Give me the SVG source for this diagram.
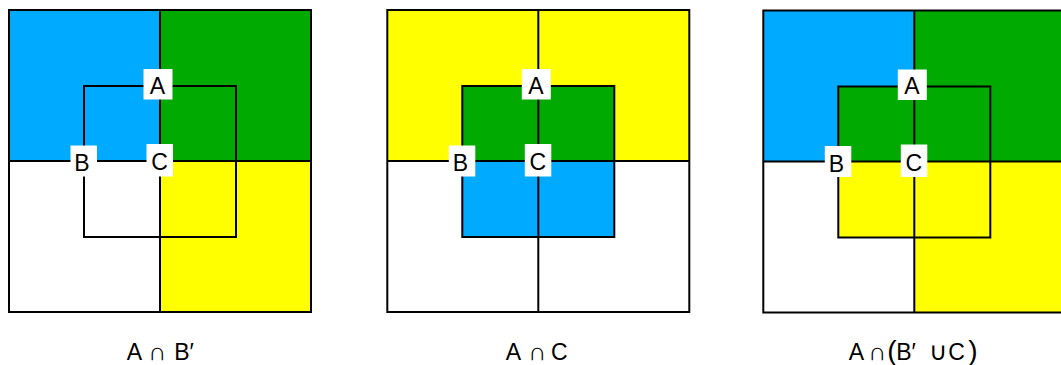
<svg xmlns="http://www.w3.org/2000/svg" xmlns:xlink="http://www.w3.org/1999/xlink" width="1061" height="365" viewBox="0 0 1061 365">
<style>
.blue{fill:#00AAFF}
.green{fill:#00AA00}
.yellow{fill:#FFFF00}
.ln{fill:none;stroke:#000;stroke-width:2}
.lbox{fill:#fff}
.lt{font-family:"Liberation Sans","DejaVu Sans",Arial,sans-serif;font-size:23px;fill:#000;text-anchor:middle}
.cap{font-family:"Liberation Sans","DejaVu Sans",Arial,sans-serif;font-size:23px;fill:#000;text-anchor:middle}
.op{font-family:"DejaVu Sans",sans-serif;font-size:25px;font-weight:200}
.par{font-size:28px}
</style>
<defs>
<g id="grid">
<rect class="ln" x="9" y="10" width="302" height="302"/>
<line class="ln" x1="160" y1="10" x2="160" y2="312"/>
<line class="ln" x1="9" y1="161" x2="311" y2="161"/>
<rect class="ln" x="84" y="86" width="152" height="151"/>
</g>
<g id="labels">
<g id="lblA"><rect class="lbox" x="143.5" y="69" width="29" height="30.5"/><text class="lt" x="157.5" y="93.5">A</text></g>
<g id="lblB"><rect class="lbox" x="70.5" y="145.5" width="26.5" height="31"/><text class="lt" x="82" y="171">B</text></g>
<g id="lblC"><rect class="lbox" x="146.5" y="144" width="26.5" height="32.5"/><text class="lt" x="159.5" y="170">C</text></g>
</g>
</defs>

<g id="panel1">
<g transform="translate(0,0)">
<rect class="blue" x="9" y="10" width="151" height="151"/>
<rect class="green" x="160" y="10" width="151" height="151"/>
<rect class="yellow" x="160" y="161" width="151" height="151"/>
<use xlink:href="#grid"/>
<use xlink:href="#labels"/>
</g>
<text class="cap" y="360"><tspan x="134.5">A</tspan><tspan class="op" x="157">∩</tspan><tspan x="184">B′</tspan></text>
</g>

<g id="panel2">
<g transform="translate(378.3,0)">
<rect class="yellow" x="9" y="10" width="302" height="151"/>
<rect class="green" x="84" y="86" width="152" height="75"/>
<rect class="blue" x="84" y="161" width="152" height="76"/>
<use xlink:href="#grid"/>
<use xlink:href="#labels"/>
</g>
<text class="cap" y="360"><tspan x="513.3">A</tspan><tspan class="op" x="537">∩</tspan><tspan x="559.2">C</tspan></text>
</g>

<g id="panel3">
<g transform="translate(754.3,0.5)">
<rect class="blue" x="9" y="10" width="151" height="151"/>
<rect class="green" x="160" y="10" width="151" height="151"/>
<rect class="yellow" x="160" y="161" width="151" height="151"/>
<rect class="green" x="84" y="86" width="76" height="75"/>
<rect class="yellow" x="84" y="161" width="76" height="76"/>
<use xlink:href="#grid"/>
<use xlink:href="#labels"/>
</g>
<text class="cap" y="360"><tspan x="856.5">A</tspan><tspan class="op" x="877">∩</tspan><tspan class="par" x="892">(</tspan><tspan x="906">B′</tspan><tspan class="op" x="938.3">∪</tspan><tspan x="956.5">C</tspan><tspan class="par" x="973">)</tspan></text>
</g>
</svg>
